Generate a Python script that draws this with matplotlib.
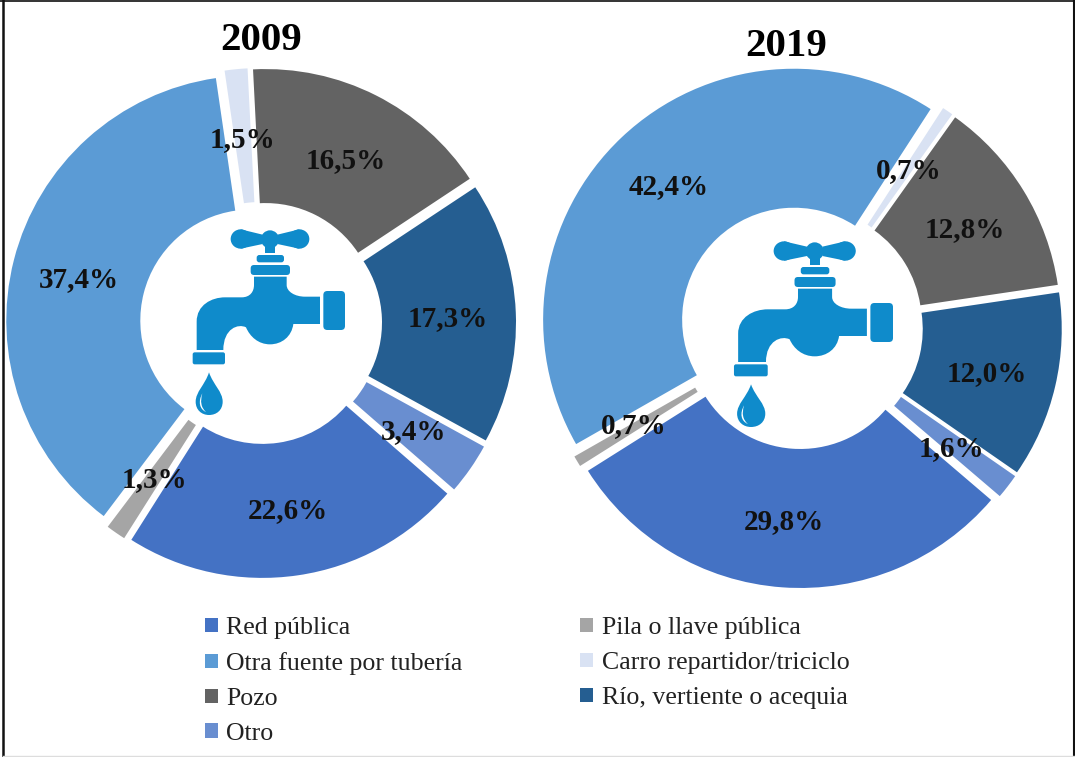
import matplotlib
matplotlib.use("Agg")
import matplotlib.pyplot as plt
from matplotlib.patches import Circle, Ellipse, FancyBboxPatch, PathPatch, Rectangle
from matplotlib.path import Path

W, H = 1075, 757

categories = ["Red pública", "Pila o llave pública", "Otra fuente por tubería",
              "Carro repartidor/triciclo", "Pozo", "Río, vertiente o acequia", "Otro"]
values_2009 = [22.6, 1.3, 37.4, 1.5, 16.5, 17.3, 3.4]
values_2019 = [29.8, 0.7, 42.4, 0.7, 12.8, 12.0, 1.6]
colors = ["#4472C4", "#A5A5A5", "#5B9BD5", "#D9E2F3", "#636363", "#255E91", "#698ED0"]

# label centres in picture pixels, same order as the values
label_pos_2009 = [(288, 511), (154, 480), (79, 280), (243, 140), (346, 161), (448, 319), (414, 432)]
label_pos_2019 = [(784, 522), (634, 426), (669, 187), (909, 171), (965, 230), (987, 374), (951, 449)]

FAUCET = "#0F8BCB"

plt.rcParams["font.family"] = ["Liberation Serif", "DejaVu Serif"]

fig = plt.figure(figsize=(W / 100, H / 100), dpi=100)
ax = fig.add_axes([0, 0, 1, 1])


def donut(values, center, r_out, r_in, cw_start, positions, year, title_pos):
    # explode is in data units here, so 10 means 10 pixels
    wedges, _ = ax.pie(
        values, colors=colors, center=(center[0], H - center[1]), radius=r_out,
        startangle=90 - cw_start, counterclock=False, normalize=True,
        explode=[10] * len(values),
        wedgeprops=dict(width=r_out - r_in, edgecolor="none"),
    )
    for v, (x, y) in zip(values, positions):
        ax.text(x, H - y, f"{v:.1f}%".replace(".", ","), ha="center", va="center",
                fontsize=21, fontweight="bold", color="#111111", zorder=7)
    ax.text(title_pos[0], H - title_pos[1], year, ha="center", va="center",
            fontsize=29.5, fontweight="bold", color="black")
    return wedges


def faucet(ox, oy, sx, sy):
    # icon outline traced in a 600 wide box, 3 units per picture pixel at scale 1
    def p(x, y):
        return (ox + x * sx / 3, H - (oy + y * sy / 3))

    def add_path(pts, codes, color=FAUCET):
        ax.add_patch(PathPatch(Path([p(*q) for q in pts], codes), fc=color, ec="none", zorder=5))

    def rrect(x0, y0, x1, y1, pad=8):
        a, b = p(x0, y1), p(x1, y0)
        pad = pad / 3
        ax.add_patch(FancyBboxPatch((a[0] + pad, a[1] + pad), b[0] - a[0] - 2 * pad, b[1] - a[1] - 2 * pad,
                                    boxstyle=f"round,pad={pad}", fc=FAUCET, ec="none", zorder=5))

    M, L, C, Z = Path.MOVETO, Path.LINETO, Path.CURVE4, Path.CLOSEPOLY

    # handle
    ax.add_patch(Circle(p(300, 88), 27 / 3, fc=FAUCET, ec="none", zorder=5))
    for cx, tip in ((212, 278), (388, 322)):
        ax.add_patch(Ellipse(p(cx, 87), 60 * sx / 3, 58 * sy / 3, fc=FAUCET, ec="none", zorder=5))
        add_path([(cx, 58), (tip, 74), (tip, 102), (cx, 116), (cx, 58)], [M, L, L, L, Z])
    a, b = p(286, 130), p(314, 100)
    ax.add_patch(Rectangle(a, b[0] - a[0], b[1] - a[1], fc=FAUCET, ec="none", zorder=5))

    # collars, flange, spout lip
    rrect(260, 135, 342, 157, 8)
    rrect(242, 165, 360, 195, 10)
    rrect(460, 243, 525, 360, 12)
    rrect(68, 427, 165, 463, 6)

    # body
    add_path(
        [(252, 200), (350, 200), (350, 225),
         (350, 245), (375, 260), (405, 260),
         (450, 260), (450, 342), (370, 342),
         (365, 380), (335, 403), (300, 403),
         (265, 403), (240, 380), (228, 352),
         (205, 340), (160, 355), (160, 420),
         (80, 420), (80, 335),
         (80, 285), (125, 262), (165, 262),
         (215, 262),
         (240, 262), (252, 245), (252, 225),
         (252, 200)],
        [M, L, L, C, C, C, L, L, L, C, C, C, C, C, C, C, C, C, L, L, C, C, C, L, C, C, C, Z],
    )

    # drop and its highlight
    add_path(
        [(117, 487),
         (105, 525), (77, 545), (77, 575),
         (77, 600), (95, 615), (117, 615),
         (140, 615), (158, 600), (158, 575),
         (158, 545), (130, 525), (117, 487),
         (117, 487)],
        [M, C, C, C, C, C, C, C, C, C, C, C, C, Z],
    )
    add_path(
        [(97, 550),
         (84, 575), (88, 597), (108, 606),
         (93, 592), (90, 575), (97, 550),
         (97, 550)],
        [M, C, C, C, C, C, C, Z], color="white",
    )


wedges = donut(values_2009, (261, 323), 245, 111, 131, label_pos_2009, "2009", (261, 40))
donut(values_2019, (801, 327), 251, 112, 130.5, label_pos_2019, "2019", (786, 46))

faucet(170, 210, 1.0, 1.0)
faucet(710.3, 222, 1.044, 1.0)

# legend fills by column, so hand it the reference's reading order
order = [0, 2, 4, 6, 1, 3, 5]
leg = ax.legend(
    [wedges[i] for i in order], [categories[i] for i in order],
    ncol=2, loc="upper left", bbox_to_anchor=(182 / W, 1 - 594 / H), frameon=False,
    fontsize=18.6, handlelength=0.5, handleheight=0.5, handletextpad=0.32,
    labelspacing=0.5, columnspacing=4.55, labelcolor="#222222",
)
for h in leg.legend_handles:
    h.set_edgecolor("none")
    h.set_linewidth(0)

ax.set_xlim(0, W)
ax.set_ylim(0, H)
ax.set_aspect("auto")
ax.axis("off")

# picture border: heavy left, thin top and right, faint bottom
ax.plot([3, 3], [0, H], color="#111111", lw=1.8, zorder=6)
ax.plot([0, W], [H - 0.5, H - 0.5], color="#111111", lw=1.2, zorder=6)
ax.plot([W - 1.5, W - 1.5], [0, H], color="#111111", lw=1.5, zorder=6)
ax.plot([3, W], [0.8, 0.8], color="#DDDDDD", lw=1.0, zorder=6)

fig.savefig("out.png", dpi=100)
